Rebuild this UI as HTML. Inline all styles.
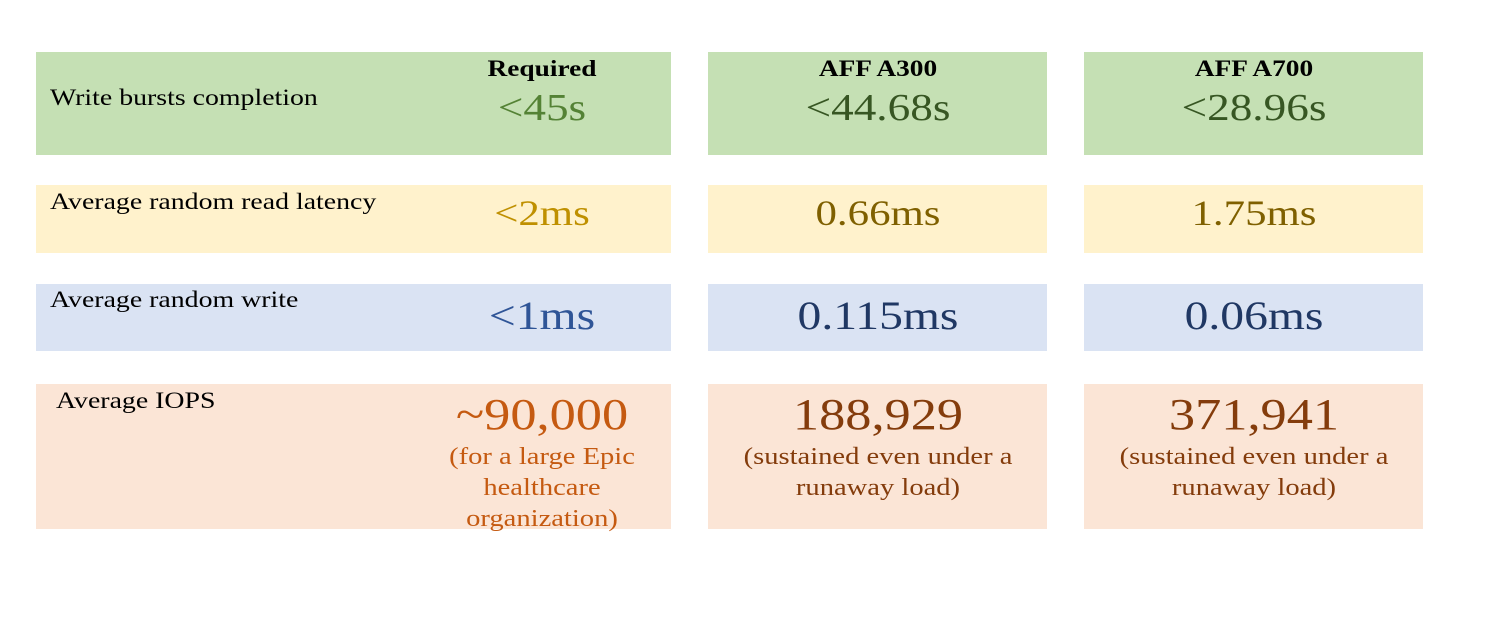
<!DOCTYPE html>
<html><head><style>
body{margin:0;width:1500px;height:628px;background:#fff;position:relative;overflow:hidden;font-family:"Liberation Serif",serif;}
.b{position:absolute}
.t{position:absolute;white-space:nowrap;line-height:1;transform-origin:left top;transform:scaleX(1.21)}
.c{transform-origin:center top;transform:translateX(-50%) scaleX(1.19);text-align:center}
.g{background:#c5e0b4}.y{background:#fff2cc}.bl{background:#dae3f3}.o{background:#fbe5d6}
</style></head><body>
<div class="b g" style="left:36px;top:52px;width:635px;height:103px"></div>
<div class="b g" style="left:708px;top:52px;width:339px;height:103px"></div>
<div class="b g" style="left:1084px;top:52px;width:339px;height:103px"></div>
<div class="b y" style="left:36px;top:185px;width:635px;height:68px"></div>
<div class="b y" style="left:708px;top:185px;width:339px;height:68px"></div>
<div class="b y" style="left:1084px;top:185px;width:339px;height:68px"></div>
<div class="b bl" style="left:36px;top:284px;width:635px;height:67px"></div>
<div class="b bl" style="left:708px;top:284px;width:339px;height:67px"></div>
<div class="b bl" style="left:1084px;top:284px;width:339px;height:67px"></div>
<div class="b o" style="left:36px;top:384px;width:635px;height:145px"></div>
<div class="b o" style="left:708px;top:384px;width:339px;height:145px"></div>
<div class="b o" style="left:1084px;top:384px;width:339px;height:145px"></div>

<div class="t c" style="left:542px;top:57px;font-size:23px;font-weight:bold">Required</div>
<div class="t c" style="left:878px;top:57px;font-size:23px;font-weight:bold">AFF A300</div>
<div class="t c" style="left:1254px;top:57px;font-size:23px;font-weight:bold">AFF A700</div>

<div class="t" style="left:50px;top:86px;font-size:23px">Write bursts completion</div>
<div class="t" style="left:50px;top:190px;font-size:23px">Average random read latency</div>
<div class="t" style="left:50px;top:288px;font-size:23px">Average random write</div>
<div class="t" style="left:56px;top:389px;font-size:23px">Average IOPS</div>

<div class="t c" style="left:542px;top:89px;font-size:38px;color:#548235">&lt;45s</div>
<div class="t c" style="left:878px;top:89px;font-size:38px;color:#375623">&lt;44.68s</div>
<div class="t c" style="left:1254px;top:89px;font-size:38px;color:#375623">&lt;28.96s</div>

<div class="t c" style="left:542px;top:195px;font-size:36px;color:#bf9000">&lt;2ms</div>
<div class="t c" style="left:878px;top:195px;font-size:36px;color:#7f6000">0.66ms</div>
<div class="t c" style="left:1254px;top:195px;font-size:36px;color:#7f6000">1.75ms</div>

<div class="t c" style="left:542px;top:296px;font-size:40px;color:#2f5597">&lt;1ms</div>
<div class="t c" style="left:878px;top:296px;font-size:40px;color:#203864">0.115ms</div>
<div class="t c" style="left:1254px;top:296px;font-size:40px;color:#203864">0.06ms</div>

<div class="t c" style="left:542px;top:393px;font-size:44px;color:#c55a11">~90,000</div>
<div class="t c" style="left:878px;top:393px;font-size:44px;color:#843c0c">188,929</div>
<div class="t c" style="left:1254px;top:393px;font-size:44px;color:#843c0c">371,941</div>

<div class="t c" style="left:542px;top:442px;font-size:24px;line-height:31px;color:#c55a11">(for a large Epic<br>healthcare<br>organization)</div>
<div class="t c" style="left:878px;top:442px;font-size:24px;line-height:31px;color:#843c0c">(sustained even under a<br>runaway load)</div>
<div class="t c" style="left:1254px;top:442px;font-size:24px;line-height:31px;color:#843c0c">(sustained even under a<br>runaway load)</div>
</body></html>
